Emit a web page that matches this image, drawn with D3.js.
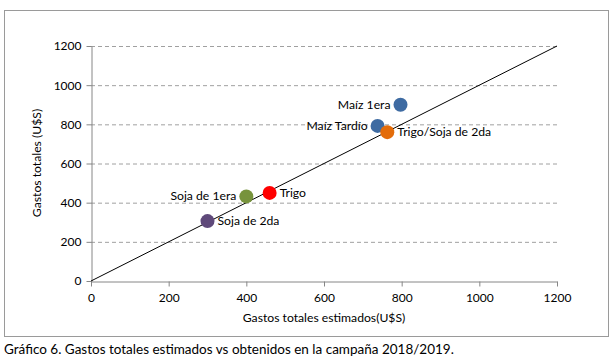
<!DOCTYPE html>
<html><head><meta charset="utf-8">
<script src="https://cdn.jsdelivr.net/npm/d3@7"></script>
<style>body{margin:0;background:#fff;}svg{display:block;font-family:Lato,"Open Sans",sans-serif;}</style>
</head><body>
<svg id="c" width="613" height="364"></svg>
<script>
const names = ["Maíz 1era","Maíz Tardío","Trigo/Soja de 2da","Soja de 1era","Trigo","Soja de 2da"];
const estimated = [797, 738, 763, 400, 460, 300];
const obtained = [900, 792, 760, 432, 450, 306];
const colors = ["#3E6BA2","#3E6BA2","#E36C0A","#77933C","#FF0000","#5F497A"];
const labelSide = ["left","left","right","left","right","right"];
const ticks = [0,200,400,600,800,1000,1200];

const svg = d3.select("#c");
svg.append("rect").attr("x",4.5).attr("y",10.5).attr("width",604).attr("height",326)
  .attr("fill","none").attr("stroke","#9a9a9a");

const x = d3.scaleLinear().domain([0,1200]).range([91,557]);
const y = d3.scaleLinear().domain([0,1200]).range([281,46]);

// gridlines
svg.append("g").selectAll("line").data(ticks.filter(d=>d>0)).join("line")
  .attr("x1",x(0)).attr("x2",x(1200)).attr("y1",d=>y(d)+0.5).attr("y2",d=>y(d)+0.5)
  .attr("stroke","#a0a0a0").attr("stroke-dasharray","4,3");

const fmt = d3.format("d");
const xa = svg.append("g").attr("transform",`translate(0,${y(0)+0.5})`)
  .call(d3.axisBottom(x).tickValues(ticks).tickFormat(fmt).tickSize(5).tickSizeOuter(0).tickPadding(7));
const ya = svg.append("g").attr("transform",`translate(${x(0)+0.5},0)`)
  .call(d3.axisLeft(y).tickValues(ticks).tickFormat(fmt).tickSize(5).tickSizeOuter(0).tickPadding(5));
[xa,ya].forEach(a=>{
  a.select(".domain").attr("stroke","#868686");
  a.selectAll(".tick line").attr("stroke","#868686");
  a.selectAll("text").attr("font-size",12).attr("fill","#000").attr("font-family","Lato,'Open Sans',sans-serif");
});

// diagonal
svg.append("line").attr("x1",x(0)).attr("y1",y(0)).attr("x2",x(1200)).attr("y2",y(1200))
  .attr("stroke","#000").attr("stroke-width",1);

const data = names.map((n,i)=>({n,ex:estimated[i],ob:obtained[i],c:colors[i],s:labelSide[i]}));
svg.append("g").selectAll("circle").data(data).join("circle")
  .attr("cx",d=>x(d.ex)).attr("cy",d=>y(d.ob)).attr("r",7).attr("fill",d=>d.c);
svg.append("g").selectAll("text").data(data).join("text")
  .attr("x",d=>d.s==="left"?x(d.ex)-10:x(d.ex)+10).attr("y",d=>y(d.ob)+4)
  .attr("text-anchor",d=>d.s==="left"?"end":"start")
  .attr("font-size",12.2).attr("fill","#000").text(d=>d.n);

svg.append("text").attr("x",324).attr("y",322).attr("text-anchor","middle")
  .attr("font-size",12.2).text("Gastos totales estimados(U$S)");
svg.append("text").attr("transform","translate(41,163) rotate(-90)").attr("text-anchor","middle")
  .attr("font-size",12.2).text("Gastos totales (U$S)");
svg.append("text").attr("x",4).attr("y",354).attr("font-size",13.5).text("Gráfico 6. Gastos totales estimados vs obtenidos en la campaña 2018/2019.");
</script>
</body></html>
